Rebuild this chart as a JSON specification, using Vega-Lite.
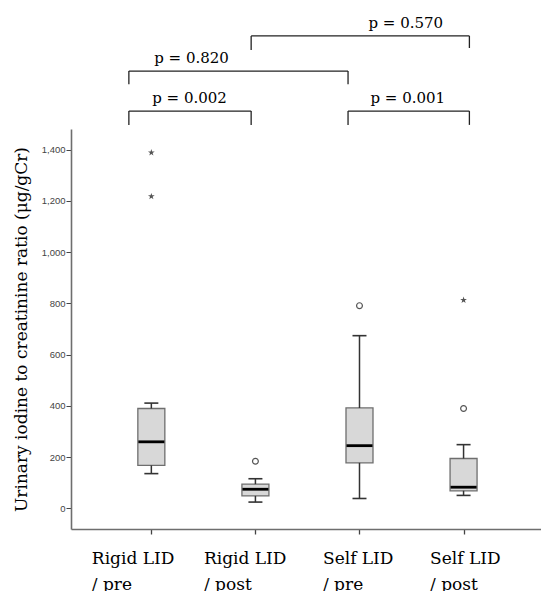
{
  "$schema": "https://vega.github.io/schema/vega-lite/v6.json",
  "width": 470,
  "height": 400,
  "autosize": {"type": "none"},
  "padding": {"left": 71, "top": 129, "right": 0, "bottom": 62},
  "background": "white",
  "config": {"view": {"stroke": null}},
  "datasets": {
    "stats": [
      {"g": 1, "group": "Rigid LID / pre", "lo": 136, "q1": 168, "med": 260, "q3": 390, "hi": 411},
      {"g": 2, "group": "Rigid LID / post", "lo": 25, "q1": 49, "med": 75, "q3": 95, "hi": 116},
      {"g": 3, "group": "Self LID / pre", "lo": 39, "q1": 178, "med": 245, "q3": 392, "hi": 674},
      {"g": 4, "group": "Self LID / post", "lo": 51, "q1": 69, "med": 83, "q3": 195, "hi": 249}
    ],
    "outliers": [
      {"g": 1, "value": 1388, "kind": "extreme"},
      {"g": 1, "value": 1217, "kind": "extreme"},
      {"g": 2, "value": 184, "kind": "outlier"},
      {"g": 3, "value": 791, "kind": "outlier"},
      {"g": 4, "value": 813, "kind": "extreme"},
      {"g": 4, "value": 390, "kind": "outlier"}
    ],
    "brackets": [
      {"label": "p = 0.002", "xl": 0.784, "xr": 1.959, "ytop": 1550, "ybl": 1496, "ybr": 1496, "xt": 1.367, "yt": 1581},
      {"label": "p = 0.820", "xl": 0.784, "xr": 2.89, "ytop": 1706, "ybl": 1655, "ybr": 1655, "xt": 1.386, "yt": 1737},
      {"label": "p = 0.001", "xl": 2.89, "xr": 4.056, "ytop": 1550, "ybl": 1496, "ybr": 1496, "xt": 3.464, "yt": 1581},
      {"label": "p = 0.570", "xl": 1.959, "xr": 4.056, "ytop": 1843, "ybl": 1788, "ybr": 1796, "xt": 3.445, "yt": 1874}
    ]
  },
  "layer": [
    {
      "data": {"name": "stats"},
      "mark": {"type": "bar", "orient": "vertical", "size": 27, "fill": "#d8d8d8", "stroke": "#6e6e6e", "strokeWidth": 1.3},
      "encoding": {
        "x": {
          "field": "g", "type": "quantitative",
          "scale": {"domain": [0.276, 4.696], "nice": false, "zero": false},
          "axis": {
            "values": [1, 2, 3, 4],
            "title": null,
            "grid": false,
            "domainColor": "#6e6e6e",
            "domainWidth": 1.6,
            "tickColor": "#444",
            "tickSize": 5,
            "tickWidth": 1.3,
            "labelFont": "DejaVu Serif",
            "labelFontSize": 17,
            "labelColor": "#000",
            "labelAlign": "left",
            "labelBaseline": "top",
            "labelPadding": 16,
            "labelLineHeight": 26,
            "labelOffset": {"condition": [
              {"test": "datum.value == 1", "value": -60},
              {"test": "datum.value == 2", "value": -52},
              {"test": "datum.value == 3", "value": -37}
            ], "value": -34},
            "labelExpr": "datum.value == 1 ? ['Rigid LID', '/ pre'] : datum.value == 2 ? ['Rigid LID', '/ post'] : datum.value == 3 ? ['Self LID', '/ pre'] : ['Self LID', ' / post']"
          }
        },
        "y": {
          "field": "q1", "type": "quantitative",
          "scale": {"domain": [-80, 1480], "nice": false, "zero": false},
          "axis": {
            "values": [0, 200, 400, 600, 800, 1000, 1200, 1400],
            "format": ",d",
            "title": "Urinary iodine to creatinine ratio (μg/gCr)",
            "titleFont": "DejaVu Serif",
            "titleFontSize": 17,
            "titleFontWeight": "normal",
            "titleColor": "#000",
            "titlePadding": 11,
            "grid": false,
            "domainColor": "#6e6e6e",
            "domainWidth": 1.6,
            "tickColor": "#444",
            "tickSize": 5,
            "tickWidth": 1,
            "labelFont": "Liberation Sans",
            "labelFontSize": 9.5,
            "labelColor": "#444",
            "labelPadding": 1
          }
        },
        "y2": {"field": "q3"}
      }
    },
    {
      "data": {"name": "stats"},
      "mark": {"type": "rule", "color": "#333", "strokeWidth": 1.5},
      "encoding": {
        "x": {"field": "g", "type": "quantitative"},
        "y": {"field": "q3", "type": "quantitative"},
        "y2": {"field": "hi"}
      }
    },
    {
      "data": {"name": "stats"},
      "mark": {"type": "rule", "color": "#333", "strokeWidth": 1.5},
      "encoding": {
        "x": {"field": "g", "type": "quantitative"},
        "y": {"field": "lo", "type": "quantitative"},
        "y2": {"field": "q1"}
      }
    },
    {
      "data": {"name": "stats"},
      "mark": {"type": "tick", "orient": "horizontal", "size": 14, "thickness": 1.6, "color": "#333", "opacity": 1},
      "encoding": {
        "x": {"field": "g", "type": "quantitative"},
        "y": {"field": "hi", "type": "quantitative"}
      }
    },
    {
      "data": {"name": "stats"},
      "mark": {"type": "tick", "orient": "horizontal", "size": 14, "thickness": 1.6, "color": "#333", "opacity": 1},
      "encoding": {
        "x": {"field": "g", "type": "quantitative"},
        "y": {"field": "lo", "type": "quantitative"}
      }
    },
    {
      "data": {"name": "stats"},
      "mark": {"type": "tick", "orient": "horizontal", "size": 26, "thickness": 2.8, "color": "#000", "opacity": 1},
      "encoding": {
        "x": {"field": "g", "type": "quantitative"},
        "y": {"field": "med", "type": "quantitative"}
      }
    },
    {
      "data": {"name": "outliers"},
      "transform": [{"filter": "datum.kind == 'outlier'"}],
      "mark": {"type": "point", "shape": "circle", "filled": false, "stroke": "#555", "strokeWidth": 1.2, "size": 34, "opacity": 1},
      "encoding": {
        "x": {"field": "g", "type": "quantitative"},
        "y": {"field": "value", "type": "quantitative"}
      }
    },
    {
      "data": {"name": "outliers"},
      "transform": [{"filter": "datum.kind == 'extreme'"}],
      "mark": {"type": "point", "shape": "M0,-1L0.2245,-0.309L0.951,-0.309L0.363,0.118L0.588,0.809L0,0.382L-0.588,0.809L-0.363,0.118L-0.951,-0.309L-0.2245,-0.309Z", "filled": true, "fill": "#555", "strokeWidth": 0, "size": 50, "opacity": 1},
      "encoding": {
        "x": {"field": "g", "type": "quantitative"},
        "y": {"field": "value", "type": "quantitative"}
      }
    },
    {
      "mark": {"type": "rule", "color": "#6e6e6e", "strokeWidth": 1.6},
      "encoding": {
        "x": {"datum": 0.276},
        "x2": {"datum": 4.696},
        "y": {"datum": 1480}
      }
    },
    {
      "mark": {"type": "rule", "color": "#d6d6d6", "strokeWidth": 1},
      "encoding": {
        "x": {"datum": -0.044},
        "x2": {"datum": 4.696},
        "y": {"datum": 1496}
      }
    },
    {
      "mark": {"type": "rule", "color": "#d6d6d6", "strokeWidth": 1},
      "encoding": {
        "x": {"datum": -0.044},
        "y": {"datum": -95},
        "y2": {"datum": 1496}
      }
    },
    {
      "data": {"name": "brackets"},
      "mark": {"type": "rule", "color": "#222", "strokeWidth": 1.3},
      "encoding": {
        "x": {"field": "xl", "type": "quantitative"},
        "x2": {"field": "xr"},
        "y": {"field": "ytop", "type": "quantitative"}
      }
    },
    {
      "data": {"name": "brackets"},
      "mark": {"type": "rule", "color": "#222", "strokeWidth": 1.3},
      "encoding": {
        "x": {"field": "xl", "type": "quantitative"},
        "y": {"field": "ytop", "type": "quantitative"},
        "y2": {"field": "ybl"}
      }
    },
    {
      "data": {"name": "brackets"},
      "mark": {"type": "rule", "color": "#222", "strokeWidth": 1.3},
      "encoding": {
        "x": {"field": "xr", "type": "quantitative"},
        "y": {"field": "ytop", "type": "quantitative"},
        "y2": {"field": "ybr"}
      }
    },
    {
      "data": {"name": "brackets"},
      "mark": {"type": "text", "font": "DejaVu Serif", "fontSize": 15, "color": "#000", "align": "center", "baseline": "alphabetic"},
      "encoding": {
        "x": {"field": "xt", "type": "quantitative"},
        "y": {"field": "yt", "type": "quantitative"},
        "text": {"field": "label"}
      }
    }
  ]
}
